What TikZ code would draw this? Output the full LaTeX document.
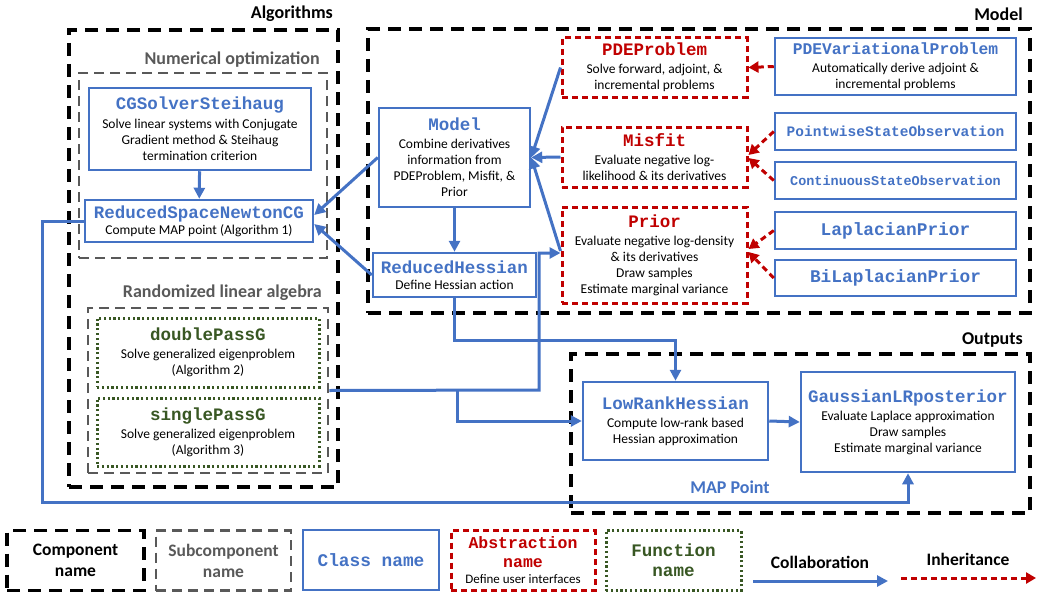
\documentclass[tikz,border=0pt]{standalone}
\usepackage{fontspec}
\setmainfont{Carlito}
\newfontfamily\codefont{Liberation Mono}
\usetikzlibrary{arrows.meta}

\definecolor{clsblue}{HTML}{4472C4}
\definecolor{absred}{HTML}{C00000}
\definecolor{fungreen}{HTML}{385723}
\definecolor{subgray}{HTML}{595959}

% class / function name in mono bold
\newcommand{\clsname}[2][17.5]{{\fontsize{#1}{#1}\selectfont\codefont\bfseries #2}}

\begin{document}
\begin{tikzpicture}[x=1pt, y=-1pt,
    component/.style={draw=black, line width=3.5pt, dash pattern=on 13pt off 8pt, minimum width=#1},
    subcomponent/.style={draw=subgray, line width=2.5pt, dash pattern=on 10pt off 6pt},
    complabel/.style={font=\fontsize{18}{20}\selectfont\bfseries, inner sep=0pt},
    sublabel/.style={complabel, text=subgray},
    classbox/.style={draw=clsblue, line width=2.5pt, align=center, inner sep=2pt,
        font=\fontsize{13.5}{16}\selectfont},
    absbox/.style={classbox, draw=absred, line width=3pt, dash pattern=on 6pt off 4pt},
    funbox/.style={classbox, draw=fungreen, line width=3pt, dash pattern=on 2.2pt off 2.6pt},
    collab/.style={draw=clsblue, line width=3pt, -{Triangle[length=11pt, width=11pt]}},
    inherit/.style={draw=absred, line width=3pt, dash pattern=on 6pt off 4pt,
        -{Triangle[length=10pt, width=11pt]}},
]
\useasboundingbox (0,0) rectangle (1038,594);

% components
\node[component=269pt, minimum height=457pt] (alg) at (203.5,258.5) {};
\node[component=662pt, minimum height=284pt] (mod) at (699,171) {};
\node[component=459pt, minimum height=159pt] (out) at (800.5,433.5) {};
\node[complabel, anchor=east] (alglbl) at (333,14) {Algorithms};
\node[complabel, anchor=east] (modlbl) at (1023,14) {Model};
\node[complabel, anchor=east] (outlbl) at (1023,340) {Outputs};

% subcomponents
\node[subcomponent, minimum width=248pt, minimum height=185pt] (numopt) at (203,165.5) {};
\node[subcomponent, minimum width=240pt, minimum height=165pt] (randla) at (208,390.5) {};
\node[sublabel, anchor=east] (numoptlbl) at (320,60) {Numerical optimization};
\node[sublabel, anchor=east] (randlalbl) at (322,293) {Randomized linear algebra};

% algorithms
\node[classbox, minimum width=222pt, minimum height=82pt] (cg) at (200,129)
    {\textcolor{clsblue}{\clsname{CGSolverSteihaug}}\\[3pt]
     Solve linear systems with Conjugate\\ Gradient method \& Steihaug\\ termination criterion};
\node[classbox, minimum width=228pt, minimum height=42pt] (rsn) at (199,221)
    {\textcolor{clsblue}{\clsname{ReducedSpaceNewtonCG}}\\ Compute MAP point (Algorithm 1)};
\node[funbox, minimum width=222pt, minimum height=69pt] (dp) at (208,352.5)
    {\textcolor{fungreen}{\clsname{doublePassG}}\\[2pt] Solve generalized eigenproblem\\ (Algorithm 2)};
\node[funbox, minimum width=222pt, minimum height=68pt] (sp) at (208,432)
    {\textcolor{fungreen}{\clsname{singlePassG}}\\[2pt] Solve generalized eigenproblem\\ (Algorithm 3)};

% model
\node[classbox, minimum width=151pt, minimum height=99pt] (model) at (454.5,157.5)
    {\textcolor{clsblue}{\clsname{Model}}\\[2pt] Combine derivatives\\ information from\\
     PDEProblem, Misfit, \&\\ Prior};
\node[classbox, minimum width=163pt, minimum height=44pt] (rh) at (454.5,275)
    {\textcolor{clsblue}{\clsname{ReducedHessian}}\\ Define Hessian action};
\node[absbox, minimum width=185pt, minimum height=59pt] (pde) at (654.5,67.5)
    {\textcolor{absred}{\clsname{PDEProblem}}\\[2pt] Solve forward, adjoint, \&\\ incremental problems};
\node[absbox, minimum width=185pt, minimum height=60pt] (misfit) at (654.5,157)
    {\textcolor{absred}{\clsname{Misfit}}\\[2pt] Evaluate negative log-\\ likelihood \& its derivatives};
\node[absbox, minimum width=185pt, minimum height=96pt] (prior) at (654.5,255)
    {\textcolor{absred}{\clsname{Prior}}\\[2pt] Evaluate negative log-density\\ \& its derivatives\\
     Draw samples\\ Estimate marginal variance};
\node[classbox, minimum width=241pt, minimum height=57pt] (pdevar) at (895.5,66.5)
    {\textcolor{clsblue}{\clsname[16.3]{PDEVariationalProblem}}\\[2pt] Automatically derive adjoint \&\\ incremental problems};
\node[classbox, minimum width=241pt, minimum height=37pt] (pso) at (895.5,131.5)
    {\textcolor{clsblue}{\clsname[14.5]{PointwiseStateObservation}}};
\node[classbox, minimum width=241pt, minimum height=37pt] (cso) at (895.5,180.5)
    {\textcolor{clsblue}{\clsname[13.5]{ContinuousStateObservation}}};
\node[classbox, minimum width=241pt, minimum height=37pt] (lap) at (895.5,230.5)
    {\textcolor{clsblue}{\clsname[17.8]{LaplacianPrior}}};
\node[classbox, minimum width=241pt, minimum height=36pt] (bilap) at (895.5,278)
    {\textcolor{clsblue}{\clsname[17.8]{BiLaplacianPrior}}};

% outputs
\node[classbox, minimum width=185pt, minimum height=78pt] (lrh) at (675.5,421)
    {\textcolor{clsblue}{\clsname{LowRankHessian}}\\[2pt] Compute low-rank based\\ Hessian approximation};
\node[classbox, minimum width=214pt, minimum height=100pt] (glr) at (908,422)
    {\textcolor{clsblue}{\clsname{GaussianLRposterior}}\\[2pt] Evaluate Laplace approximation\\
     Draw samples\\ Estimate marginal variance};
\node[complabel, text=clsblue] (maplbl) at (730,487) {MAP Point};

% collaboration
\draw[collab] (cg) -- (rsn);
\draw[collab] (model.west) -- ([yshift=6pt]rsn.east);
\draw[collab] (rh.west) -- ([yshift=-3pt]rsn.east);
\draw[collab] (model) -- (rh);
\draw[collab] (pde.west) -- (model.east);
\draw[collab] (misfit.west) -- (model.east);
\draw[collab] ([yshift=4pt]prior.west) -- (model.east);
\coordinate (busA) at (539,390);
\coordinate (busB) at (457,390);
\draw[collab] (randla.east) -- (busA) |- ([yshift=2pt]prior.west);
\draw[collab] (busB) |- (lrh.west);
\draw[collab] (rh.south) -- ++(0,42) -| (lrh.north);
\coordinate (mapcorner) at (42,502);
\draw[collab] (rsn.west) -| (mapcorner) -| (glr.south);
\draw[collab] (lrh.east) -- (glr.west);

% inheritance
\draw[inherit] (pdevar.west) -- (pde.east);
\draw[inherit] (pso.west) -- ([yshift=2pt]misfit.east);
\draw[inherit] (cso.west) -- ([yshift=-1pt]misfit.east);
\draw[inherit] (lap.west) -- ([yshift=6pt]prior.east);
\draw[inherit] (bilap.west) -- ([yshift=3pt]prior.east);

% legend
\node[component=137pt, minimum height=60pt, align=center, font=\fontsize{17.5}{21}\selectfont\bfseries]
    (lcomp) at (75.5,560.5) {Component\\ name};
\node[subcomponent, minimum width=135pt, minimum height=60pt, align=center, text=subgray,
    font=\fontsize{17.5}{21}\selectfont\bfseries] (lsub) at (223.5,560.5) {Subcomponent\\ name};
\node[classbox, minimum width=136pt, minimum height=60pt] (lclass) at (371,560)
    {\textcolor{clsblue}{\clsname[17.8]{Class name}}};
\node[absbox, minimum width=144pt, minimum height=60pt] (labs) at (523,560.5)
    {\textcolor{absred}{\clsname[16.5]{Abstraction}}\\[3pt] \textcolor{absred}{\clsname[16.5]{name}}\\[0pt]
     {\fontsize{13}{13}\selectfont Define user interfaces}};
\node[funbox, minimum width=135pt, minimum height=60pt] (lfun) at (673.5,560.5)
    {\textcolor{fungreen}{\clsname[17.6]{Function}}\\[4pt] \textcolor{fungreen}{\clsname[17.6]{name}}};
\coordinate (collabS) at (753,581);
\coordinate (collabE) at (888,581);
\coordinate (inhS) at (901,578);
\coordinate (inhE) at (1036,578);
\draw[collab] (collabS) -- (collabE);
\draw[inherit] (inhS) -- (inhE);
\node[complabel, font=\fontsize{17.5}{20}\selectfont\bfseries] (collablbl) at (820,562) {Collaboration};
\node[complabel, font=\fontsize{17.5}{20}\selectfont\bfseries] (inhlbl) at (968,559) {Inheritance};
\end{tikzpicture}
\end{document}
